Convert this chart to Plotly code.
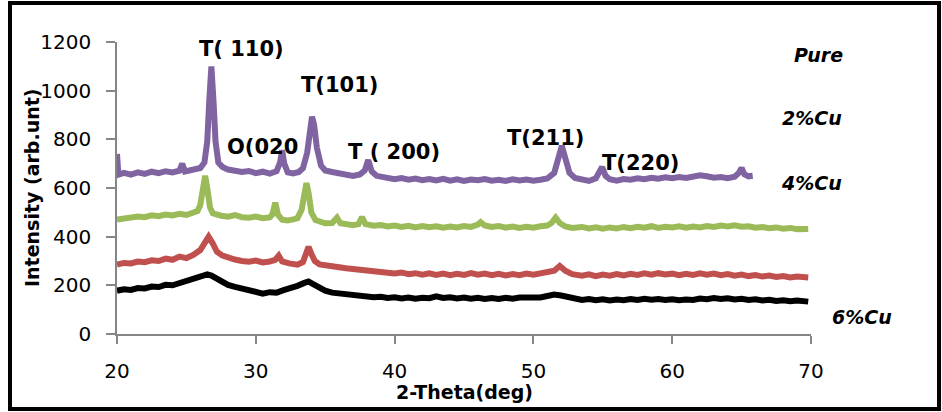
import plotly.graph_objects as go

# ---- XRD patterns (2-theta in degrees, intensity in arb. units) ----
pure_x = [20.0, 20.1, 20.5, 21.0, 21.5, 22.0, 22.5, 23.0, 23.5, 24.0, 24.5, 24.7, 24.9, 25.5, 26.0, 26.3,
          26.5, 26.65, 26.8, 26.95, 27.1, 27.3, 27.6, 28.0, 28.5, 29.0, 29.5, 30.0, 30.5, 31.0, 31.5, 31.75,
          31.9, 32.05, 32.3, 32.7, 33.1, 33.4, 33.7, 33.9, 34.05, 34.2, 34.4, 34.7, 35.0, 35.5, 36.0, 36.5,
          37.0, 37.5, 37.85, 38.1, 38.35, 38.7, 39.0, 39.5, 40.0, 40.5, 41.0, 41.5, 42.0, 42.5, 43.0, 43.5,
          44.0, 44.5, 45.0, 45.5, 46.0, 46.5, 47.0, 47.5, 48.0, 48.5, 49.0, 49.5, 50.0, 50.5, 51.0, 51.5,
          51.8, 52.05, 52.3, 52.6, 53.0, 53.5, 54.0, 54.5, 54.75, 54.95, 55.2, 55.5, 56.0, 56.5, 57.0, 57.5,
          58.0, 58.5, 59.0, 59.5, 60.0, 60.5, 61.0, 61.5, 62.0, 62.5, 63.0, 63.5, 64.0, 64.5, 64.8, 65.0,
          65.2, 65.5, 65.8]
pure_y = [740, 655, 662, 655, 664, 658, 667, 661, 669, 664, 671, 700, 668, 674, 682, 705,
          790, 960, 1100, 960, 790, 705, 686, 676, 670, 666, 670, 661, 667, 659, 669, 705,
          755, 700, 664, 660, 666, 682, 745, 860, 893, 860, 765, 692, 672, 666, 660, 656,
          650, 656, 672, 715, 668, 650, 646, 641, 636, 641, 634, 639, 632, 637, 631, 638,
          630, 636, 629, 635, 632, 637, 630, 634, 629, 636, 631, 635, 630, 634, 639, 662,
          720, 773, 722, 662, 641, 633, 629, 640, 660, 686, 650, 636, 630, 637, 634, 640,
          636, 642, 638, 644, 640, 645, 641, 646, 652, 648, 642, 645, 640, 646, 662, 682,
          656, 648, 650]

cu2_x = [20.0, 20.5, 21.0, 21.5, 22.0, 22.5, 23.0, 23.5, 24.0, 24.5, 25.0, 25.5, 25.8, 26.0, 26.2, 26.35,
         26.5, 26.7, 26.9, 27.2, 27.5, 28.0, 28.5, 29.0, 29.5, 30.0, 30.5, 31.0, 31.2, 31.4, 31.6, 31.9,
         32.3, 32.7, 33.0, 33.3, 33.5, 33.65, 33.8, 34.0, 34.3, 34.7, 35.0, 35.5, 35.85, 36.1, 36.5, 37.0,
         37.4, 37.65, 37.9, 38.5, 39.0, 39.5, 40.0, 40.5, 41.0, 41.5, 42.0, 42.5, 43.0, 43.5, 44.0, 44.5,
         45.0, 45.5, 46.0, 46.2, 46.5, 47.0, 47.5, 48.0, 48.5, 49.0, 49.5, 50.0, 50.5, 51.0, 51.3, 51.6,
         51.9, 52.3, 52.8, 53.5, 54.0, 54.5, 55.0, 55.5, 56.0, 56.5, 57.0, 57.5, 58.0, 58.5, 59.0, 59.5,
         60.0, 60.5, 61.0, 61.5, 62.0, 62.5, 63.0, 63.5, 64.0, 64.5, 65.0, 65.5, 66.0, 66.5, 67.0, 67.5,
         68.0, 68.5, 69.0, 69.5, 69.8]
cu2_y = [470, 476, 479, 483, 480, 488, 484, 491, 487, 494, 489, 496, 505, 530, 600, 650,
         600, 520, 496, 490, 486, 482, 489, 480, 478, 483, 476, 479, 492, 540, 490, 470,
         467, 471, 476, 510, 590, 620, 580, 500, 468, 458, 455, 456, 478, 455, 450, 447,
         452, 480, 452, 445, 448, 442, 446, 440, 445, 438, 444, 439, 443, 437, 442, 438,
         444, 440, 450, 460, 446, 440, 444, 437, 442, 436, 441, 437, 443, 446, 456, 478,
         456, 442, 436, 440, 434, 439, 433, 438, 434, 440, 435, 441, 437, 443, 436, 441,
         438, 443, 437, 442, 438, 444, 440, 446, 442, 447, 441, 443, 437, 440, 435, 438,
         433, 436, 431, 434, 432]

cu4_x = [20.0, 20.5, 21.0, 21.5, 22.0, 22.5, 23.0, 23.5, 24.0, 24.5, 25.0, 25.5, 26.0, 26.3, 26.6, 26.9,
         27.2, 27.6, 28.0, 28.5, 29.0, 29.5, 30.0, 30.5, 31.0, 31.4, 31.65, 31.9, 32.4, 33.0, 33.4, 33.6,
         33.8, 34.0, 34.25, 34.6, 35.0, 35.5, 36.0, 36.5, 37.0, 37.5, 38.0, 38.5, 39.0, 39.5, 40.0, 40.5,
         41.0, 41.5, 42.0, 42.5, 43.0, 43.5, 44.0, 44.5, 45.0, 45.5, 46.0, 46.5, 47.0, 47.5, 48.0, 48.5,
         49.0, 49.5, 50.0, 50.5, 51.0, 51.5, 51.9, 52.3, 52.8, 53.5, 54.0, 54.5, 55.0, 55.5, 56.0, 56.5,
         57.0, 57.5, 58.0, 58.5, 59.0, 59.5, 60.0, 60.5, 61.0, 61.5, 62.0, 62.5, 63.0, 63.5, 64.0, 64.5,
         65.0, 65.5, 66.0, 66.5, 67.0, 67.5, 68.0, 68.5, 69.0, 69.5, 69.8]
cu4_y = [285, 292, 290, 298, 295, 303, 300, 310, 305, 318, 312, 325, 345, 372, 400, 372,
         338, 322, 312, 306, 300, 297, 302, 294, 298, 305, 322, 298, 290, 285, 296, 330,
         358, 330, 300, 286, 281, 277, 274, 270, 266, 268, 262, 258, 254, 252, 249, 253,
         246, 250, 244, 249, 243, 248, 242, 247, 243, 250, 244, 248, 242, 247, 241, 246,
         242, 248, 244, 249, 252, 260, 280, 260, 246, 240, 245, 238, 244, 240, 246, 241,
         247, 243, 249, 244, 250, 245, 248, 242, 247, 243, 249, 244, 248, 242, 246, 240,
         244, 238, 242, 236, 240, 234, 238, 232, 236, 231, 232]

cu6_x = [20.0, 20.5, 21.0, 21.5, 22.0, 22.5, 23.0, 23.5, 24.0, 24.5, 25.0, 25.5, 26.0, 26.5, 26.8, 27.2,
         27.6, 28.0, 28.5, 29.0, 29.5, 30.0, 30.5, 31.0, 31.5, 32.0, 32.5, 33.0, 33.5, 33.8, 34.1, 34.5,
         35.0, 35.5, 36.0, 36.5, 37.0, 37.5, 38.0, 38.5, 39.0, 39.5, 40.0, 40.5, 41.0, 41.5, 42.0, 42.5,
         43.0, 43.5, 44.0, 44.5, 45.0, 45.5, 46.0, 46.5, 47.0, 47.5, 48.0, 48.5, 49.0, 49.5, 50.0, 50.5,
         51.0, 51.5, 52.0, 52.5, 53.0, 53.5, 54.0, 54.5, 55.0, 55.5, 56.0, 56.5, 57.0, 57.5, 58.0, 58.5,
         59.0, 59.5, 60.0, 60.5, 61.0, 61.5, 62.0, 62.5, 63.0, 63.5, 64.0, 64.5, 65.0, 65.5, 66.0, 66.5,
         67.0, 67.5, 68.0, 68.5, 69.0, 69.5, 69.8]
cu6_y = [178, 184, 181, 189, 187, 195, 193, 202, 200, 210, 215, 224, 235, 245, 240, 226,
         212, 202, 194, 188, 182, 176, 166, 172, 170, 180, 186, 198, 210, 216, 206, 192,
         178, 170, 167, 162, 160, 155, 157, 151, 153, 148, 151, 146, 150, 145, 149, 147,
         155, 148, 151, 146, 150, 145, 149, 144, 148, 144, 149, 145, 150, 148, 152, 150,
         156, 162, 158, 150, 143, 140, 144, 139, 143, 138, 142, 139, 144, 140, 145, 141,
         144, 140, 143, 139, 142, 140, 146, 143, 148, 144, 147, 142, 145, 140, 143, 138,
         141, 136, 139, 135, 138, 134, 133]

series = [
    ("Pure", pure_x, pure_y, "#8064A2"),
    ("2%Cu", cu2_x, cu2_y, "#9BBB59"),
    ("4%Cu", cu4_x, cu4_y, "#C0504D"),
    ("6%Cu", cu6_x, cu6_y, "#000000"),
]

X_TICKS = [20, 30, 40, 50, 60, 70]
Y_TICKS = [0, 200, 400, 600, 800, 1000, 1200]

W, H = 942, 412
L, R, T, B = 117, 131, 42, 78
pw, ph = W - L - R, H - T - B


def px_to_paper(px, py):
    """Page pixel position -> paper coordinates of the plot area."""
    return (px - L) / pw, (T + ph - py) / ph


# Series captions to the right of the traces (page pixels), reflection labels in data units
series_labels = ["Pure", "2%Cu", "4%Cu", "6%Cu"]
series_label_px = [(818, 55), (812, 118), (812, 183), (862, 317)]
peak_labels = ["T( 110)", "O(020", "T(101)", "T ( 200)", "T(211)", "T(220)"]
peak_label_pos = [(29.0, 1171), (30.45, 769), (36.0, 1023), (39.95, 748), (50.85, 806), (57.7, 703)]

fig = go.Figure()
for name, xs, ys, color in series:
    assert len(xs) == len(ys), name
    fig.add_trace(go.Scatter(x=xs, y=ys, mode="lines", name=name,
                             line=dict(color=color, width=6), showlegend=False))

FONT = "DejaVu Sans"
annotations = []
for text, (sx, sy) in zip(series_labels, series_label_px):
    ax, ay = px_to_paper(sx, sy)
    annotations.append(dict(x=ax, y=ay, xref="paper", yref="paper", text=f"<b><i>{text}</i></b>",
                            xanchor="center", yanchor="middle",
                            showarrow=False, font=dict(family=FONT, size=19, color="black")))
for text, (ax, ay) in zip(peak_labels, peak_label_pos):
    annotations.append(dict(x=ax, y=ay, xref="x", yref="y", text=f"<b>{text}</b>",
                            xanchor="center", yanchor="middle",
                            showarrow=False, font=dict(family=FONT, size=21, color="black")))

# axis titles
tx, ty = px_to_paper(32, T + ph / 2)
annotations.append(dict(x=tx, y=ty, xref="paper", yref="paper", textangle=-90,
                        xanchor="center", yanchor="middle",
                        text="<b>Intensity (arb.unt)</b>", showarrow=False,
                        font=dict(family=FONT, size=19, color="black")))
tx, ty = px_to_paper(L + pw / 2, 392)
annotations.append(dict(x=tx, y=ty, xref="paper", yref="paper",
                        xanchor="center", yanchor="middle",
                        text="<b>2-Theta(deg)</b>", showarrow=False,
                        font=dict(family=FONT, size=19, color="black")))

axis_common = dict(showline=True, linecolor="#868686", linewidth=1.5, showgrid=False,
                   zeroline=False, ticks="outside", tickcolor="#868686", tickwidth=1.5,
                   tickfont=dict(family=FONT, size=20, color="black"))

fx0, fy0 = px_to_paper(10, 409)
fx1, fy1 = px_to_paper(939, 3)

fig.update_layout(
    width=W, height=H,
    margin=dict(l=L, r=R, t=T, b=B),
    paper_bgcolor="white", plot_bgcolor="white",
    xaxis=dict(range=[20, 70], tickvals=X_TICKS, ticklen=8, ticklabelstandoff=10, **axis_common),
    yaxis=dict(range=[0, 1200], tickvals=Y_TICKS, ticklen=9, ticklabelstandoff=11, **axis_common),
    annotations=annotations,
    shapes=[dict(type="rect", xref="paper", yref="paper", x0=fx0, x1=fx1, y0=fy0, y1=fy1,
                 line=dict(color="black", width=4), fillcolor="rgba(0,0,0,0)", layer="above")],
)

fig.write_html("out.html")
